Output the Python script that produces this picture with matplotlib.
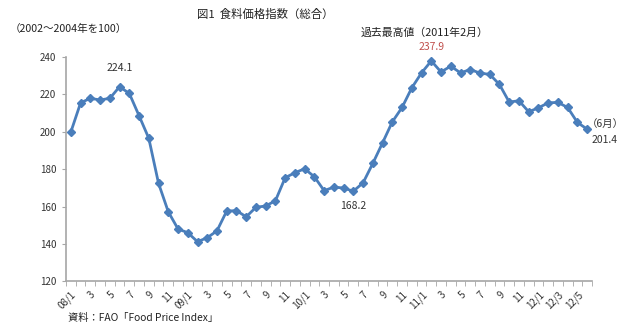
import matplotlib.pyplot as plt
import numpy as np

plt.rcParams['font.family'] = ['Noto Sans CJK JP', 'DejaVu Sans']

# 食料価格指数（総合）2008年1月～2012年6月
values = [
    199.9, 215.5, 217.9, 217.0, 217.9, 224.1, 220.5, 208.6, 196.5, 172.4, 157.2, 148.0,
    146.0, 141.2, 143.3, 147.0, 157.6, 157.8, 154.5, 159.6, 160.3, 163.1, 175.4, 178.1,
    180.2, 175.9, 168.5, 170.4, 169.9, 168.2, 172.7, 183.1, 194.1, 205.3, 213.0, 223.5,
    231.5, 237.9, 232.0, 235.1, 231.5, 233.3, 231.4, 230.7, 225.3, 215.9, 216.6, 210.7,
    212.8, 215.5, 215.7, 213.0, 205.0, 201.4,
]
tick_labels = ['08/1', '3', '5', '7', '9', '11',
               '09/1', '3', '5', '7', '9', '11',
               '10/1', '3', '5', '7', '9', '11',
               '11/1', '3', '5', '7', '9', '11',
               '12/1', '12/3', '12/5']
yticks = [120, 140, 160, 180, 200, 220, 240]

line_color = '#4A7EBB'
axis_color = '#A6A6A6'
text_color = '#333333'

fig = plt.figure(figsize=(6.4, 3.31), dpi=100)
ax = fig.add_axes([66 / 640, 1 - 281.3 / 331, (592 - 66) / 640, (281.3 - 57) / 331])

x = np.arange(len(values))
ax.plot(x, values, color=line_color, lw=2.0, marker='D', markersize=4,
        markeredgecolor=line_color, markerfacecolor=line_color)

ax.set_xlim(-0.5, len(values) - 0.5)
ax.set_ylim(120, 240)
ax.set_yticks(yticks)

# 目盛りは月の境界、ラベルは2か月おき
ax.set_xticks(np.arange(0, len(values), 2))
ax.set_xticklabels(tick_labels, rotation=45, ha='right', rotation_mode='anchor')
ax.set_xticks(np.arange(-0.5, len(values), 1), minor=True)
ax.tick_params(axis='x', which='major', length=0, pad=6, labelsize=7, labelcolor=text_color)
ax.tick_params(axis='x', which='minor', length=3.5, color=axis_color, direction='out')
ax.tick_params(axis='y', length=3, color=axis_color, labelsize=7, labelcolor=text_color, pad=4)

for s in ['top', 'right']:
    ax.spines[s].set_visible(False)
for s in ['left', 'bottom']:
    ax.spines[s].set_color(axis_color)
    ax.spines[s].set_linewidth(1.2)

# 注記
ax.annotate('224.1', (5, values[5]), xytext=(0, 11), textcoords='offset points',
            ha='center', fontsize=7.5, color=text_color)
ax.annotate('237.9', (37, values[37]), xytext=(0, 8), textcoords='offset points',
            ha='center', fontsize=7.5, color='#C0504D')
ax.annotate('168.2', (29, values[29]), xytext=(0, -11), textcoords='offset points',
            ha='center', va='center', fontsize=7.5, color=text_color)
ax.annotate('201.4', (53, values[53]), xytext=(3, -8), textcoords='offset points',
            ha='left', va='center', fontsize=7.5, color=text_color)
ax.annotate('（6月）', (53, values[53]), xytext=(0, 4), textcoords='offset points',
            ha='left', va='center', fontsize=7.5, color=text_color)

fig.text(265 / 640, 1 - 14 / 331, '図1  食料価格指数（総合）', ha='center', va='center',
         fontsize=8.2, color='#222222')
fig.text(425 / 640, 1 - 33 / 331, '過去最高値（2011年2月）', ha='center', va='center',
         fontsize=7.8, color='#222222')
fig.text(10 / 640, 1 - 29 / 331, '（2002～2004年を100）', ha='left', va='center',
         fontsize=7.6, color='#222222')
fig.text(68 / 640, 1 - 318 / 331, '資料：FAO「Food Price Index」', ha='left', va='center',
         fontsize=7.4, color='#222222')

fig.savefig('out.png', dpi=100)
